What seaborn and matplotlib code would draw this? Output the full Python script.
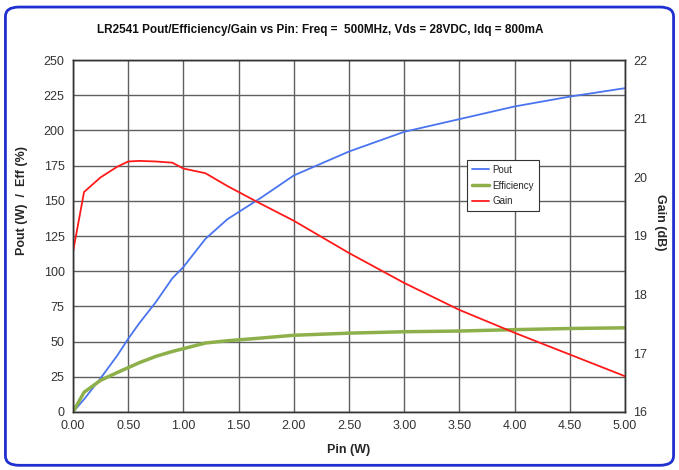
import matplotlib
matplotlib.use("Agg")
import matplotlib.pyplot as plt
import seaborn as sns
import pandas as pd
from matplotlib.patches import FancyBboxPatch
from matplotlib.lines import Line2D

sns.set_theme(style="white")
plt.rcParams['font.family'] = ['Liberation Sans', 'DejaVu Sans']

pin = [0.0, 0.1, 0.25, 0.4, 0.5, 0.6, 0.75, 0.9, 1.0, 1.2, 1.4, 1.7, 2.0, 2.5, 3.0, 3.5, 4.0, 4.5, 5.0]
pout = [0, 9, 24, 40, 52, 63, 78, 95, 103, 123, 137, 152, 168, 185, 199, 208, 217, 224, 230]
eff = [0, 14, 22.5, 28, 31.5, 35, 39.5, 43, 45, 49, 50.6, 52.5, 54.5, 56, 57, 57.5, 58.5, 59.3, 59.8]
gain = [18.73, 19.75, 20.0, 20.18, 20.27, 20.28, 20.27, 20.25, 20.15, 20.07, 19.85, 19.55, 19.26, 18.71, 18.2, 17.74, 17.35, 16.98, 16.61]

xticks = [0.0, 0.5, 1.0, 1.5, 2.0, 2.5, 3.0, 3.5, 4.0, 4.5, 5.0]
yticks = list(range(0, 251, 25))
y2ticks = list(range(16, 23))

df = pd.DataFrame({"Pin": pin, "Pout": pout, "Efficiency": eff, "Gain": gain})

fig = plt.figure(figsize=(6.79, 4.70), dpi=100)
ax = fig.add_axes([73/679, 1-412/470, 552/679, 352/470])
ax2 = ax.twinx()

c_pout = "#4a74f0"
c_eff = "#8db04a"
c_gain = "#ff1a1a"

sns.lineplot(data=df, x="Pin", y="Pout", ax=ax, color=c_pout, lw=1.3)
sns.lineplot(data=df, x="Pin", y="Efficiency", ax=ax, color=c_eff, lw=2.5)
sns.lineplot(data=df, x="Pin", y="Gain", ax=ax2, color=c_gain, lw=1.3)

ax.set_xlim(0, 5)
ax.set_ylim(0, 250)
ax2.set_ylim(16, 22)
ax.set_xticks(xticks)
ax.set_xticklabels([f"{v:.2f}" for v in xticks])
ax.set_yticks(yticks)
ax2.set_yticks(y2ticks)
ax.grid(True, color="#606060", lw=1.0)
ax.set_axisbelow(True)
for a in (ax, ax2):
    for s in a.spines.values():
        s.set_color("#333333")
        s.set_linewidth(1.0)
    a.tick_params(length=0, labelsize=9, colors="#333333", pad=6)

ax.set_xlabel("Pin (W)", fontsize=9, fontweight="bold")
ax.xaxis.set_label_coords(0.5, -0.09)
ax.set_ylabel("Pout (W)  /  Eff (%)", fontsize=9, fontweight="bold")
ax.yaxis.set_label_coords(-0.082, 0.6)
ax2.set_ylabel("Gain (dB)", fontsize=9, fontweight="bold", rotation=270, va="center")
ax2.yaxis.set_label_coords(1.063, 0.54)

fig.text(320/679, 1 - 30/470, "LR2541 Pout/Efficiency/Gain vs Pin: Freq =  500MHz, Vds = 28VDC, Idq = 800mA",
         ha="center", va="center", fontsize=8.5, fontweight="bold", color="#111111")

handles = [Line2D([], [], color=c_pout, lw=1.3), Line2D([], [], color=c_eff, lw=2.5), Line2D([], [], color=c_gain, lw=1.3)]
leg = ax2.legend(handles, ["Pout", "Efficiency", "Gain"], loc="upper left", bbox_to_anchor=(0.705, 0.73),
                 fontsize=7, frameon=True, fancybox=False, edgecolor="#333333", framealpha=1,
                 handlelength=1.8, handletextpad=0.3, borderpad=0.5, labelspacing=0.6)
leg.get_frame().set_linewidth(0.8)

border = FancyBboxPatch((0.008, 0.01), 0.984, 0.975, boxstyle="round,pad=0,rounding_size=0.02",
                        transform=fig.transFigure, fill=False, edgecolor="#1f2fd0", lw=2.0)
fig.patches.append(border)

fig.savefig("out.png", dpi=100)
